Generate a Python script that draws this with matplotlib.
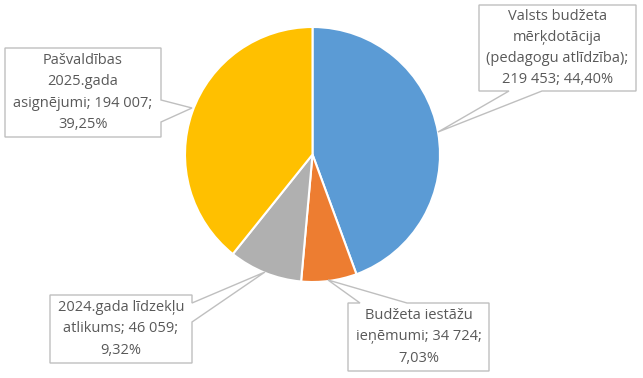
import matplotlib
matplotlib.use("Agg")
import matplotlib.pyplot as plt
from matplotlib.patches import Polygon

categories = ["Valsts budžeta mērķdotācija (pedagogu atlīdzība)",
              "Budžeta iestāžu ieņēmumi",
              "2024.gada līdzekļu atlikums",
              "Pašvaldības 2025.gada asignējumi"]
values = [219453, 34724, 46059, 194007]
labels = ["Valsts budžeta\nmērķdotācija\n(pedagogu atlīdzība);\n219 453; 44,40%",
          "Budžeta iestāžu\nieņēmumi; 34 724;\n7,03%",
          "2024.gada līdzekļu\natlikums; 46 059;\n9,32%",
          "Pašvaldības\n2025.gada\nasignējumi; 194 007;\n39,25%"]
colors = ["#5B9BD5", "#ED7D31", "#B0B0B0", "#FFC000"]

W, H = 643, 378
fig = plt.figure(figsize=(W / 100, H / 100), dpi=100)
ax = fig.add_axes([0, 0, 1, 1])
ax.set_xlim(0, W)
ax.set_ylim(0, H)
ax.set_aspect("equal")
ax.axis("off")

def py(y):
    return H - y

ax.pie(values, colors=colors, startangle=90, counterclock=False,
       center=(312.5, py(154.5)), radius=127.5,
       wedgeprops=dict(edgecolor="white", linewidth=1.5))
ax.set_xlim(0, W)
ax.set_ylim(0, H)

# callout boxes (pixel coordinates): box L,T,R,B and wedge spec
callouts = [
    dict(box=(479, 5, 636, 91), side="bottom", a=(509, 542), tip=(438, 132)),
    dict(box=(348, 303, 489, 371), side="top", a=(360, 407), tip=(328, 280)),
    dict(box=(50, 295, 192, 363), side="right", a=(303, 322), tip=(265, 272)),
    dict(box=(5, 48, 161, 137), side="right", a=(100, 122), tip=(192, 108)),
]

for lab, c in zip(labels, callouts):
    L, T, R, B = c["box"]
    a1, a2 = c["a"]
    tip = c["tip"]
    if c["side"] == "bottom":
        pts = [(L, T), (R, T), (R, B), (a2, B), tip, (a1, B), (L, B)]
    elif c["side"] == "top":
        pts = [(L, T), (a1, T), tip, (a2, T), (R, T), (R, B), (L, B)]
    else:  # right
        pts = [(L, T), (R, T), (R, a1), tip, (R, a2), (R, B), (L, B)]
    pts = [(x, py(y)) for x, y in pts]
    ax.add_patch(Polygon(pts, closed=True, facecolor="white",
                         edgecolor="#BFBFBF", linewidth=1.0, zorder=5))
    ax.text((L + R) / 2, py((T + B) / 2), lab, ha="center", va="center",
            fontsize=10.5, color="#595959", family="Open Sans",
            linespacing=1.55, zorder=6)

fig.savefig("out.png", dpi=100)
